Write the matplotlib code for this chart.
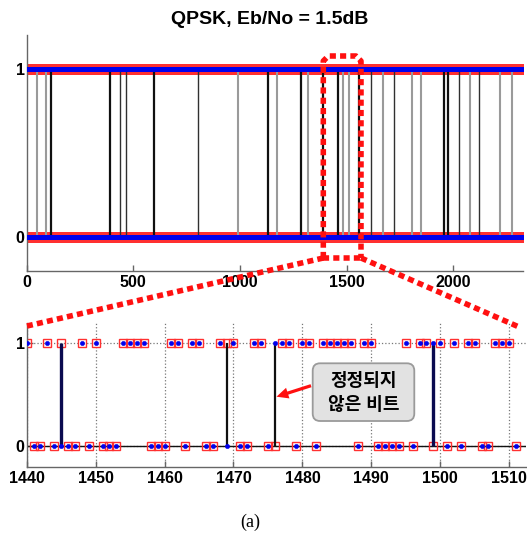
import matplotlib
matplotlib.use('Agg')
import matplotlib.pyplot as plt
import numpy as np
from matplotlib.lines import Line2D
from matplotlib.patches import FancyBboxPatch, FancyArrowPatch

plt.rcParams['font.family'] = ['Liberation Sans', 'Noto Sans CJK KR', 'DejaVu Sans']

# ---------------- data ----------------
title_text = "QPSK, Eb/No = 1.5dB"
caption_text = "(a)"
note_text = "정정되지\n않은 비트"

# overview panel
n_bits = 2328
overview_levels = [0, 1]
overview_xticks = [0, 500, 1000, 1500, 2000]
overview_err_pos = [47, 90, 114, 392, 436, 464, 598, 804, 989, 1133, 1172, 1286,
                    1320, 1390, 1458, 1484, 1512, 1560, 1612, 1669, 1723, 1808,
                    1850, 1955, 1975, 2025, 2076, 2122, 2219, 2275]
overview_err_shade = ['g', 'g', 'k', 'k', 'd', 'd', 'k', 'd', 'g', 'k', 'g', 'k',
                      'g', 'k', 'k', 'g', 'g', 'k', 'd', 'g', 'd', 'g',
                      'g', 'k', 'k', 'd', 'g', 'd', 'g', 'g']

# zoomed window 1440..1511
window_start = 1440
sent_bits = [1, 0, 0, 1, 0, 1, 0, 0, 1, 0,   # 1440-1449
             1, 0, 0, 0, 1, 1, 1, 1, 0, 0,   # 1450-1459
             0, 1, 1, 0, 1, 1, 0, 0, 1, 1,   # 1460-1469
             1, 0, 0, 1, 1, 0, 0, 1, 1, 0,   # 1470-1479
             1, 1, 0, 1, 1, 1, 1, 1, 0, 1,   # 1480-1489
             1, 0, 0, 0, 0, 1, 0, 1, 1, 0,   # 1490-1499
             1, 0, 1, 0, 1, 1, 0, 0, 1, 1,   # 1500-1509
             1, 0]                           # 1510-1511
decoded_bits = [1, 0, 0, 1, 0, 0, 0, 0, 1, 0,
                1, 0, 0, 0, 1, 1, 1, 1, 0, 0,
                0, 1, 1, 0, 1, 1, 0, 0, 1, 0,
                1, 0, 0, 1, 1, 0, 1, 1, 1, 0,
                1, 1, 0, 1, 1, 1, 1, 1, 0, 1,
                1, 0, 0, 0, 0, 1, 0, 1, 1, 1,
                1, 0, 1, 0, 1, 1, 0, 0, 1, 1,
                1, 0]
window_xticks = [1440, 1450, 1460, 1470, 1480, 1490, 1500, 1510]
window_err_shade = {1445: 'n', 1469: 'k', 1476: 'k', 1499: 'n'}

# ---------------- layout ----------------
W, H = 527, 533
fig = plt.figure(figsize=(W / 100, H / 100), dpi=100)


def ax_rect(left, right, top, bottom):
    return [left / W, 1 - bottom / H, (right - left) / W, (bottom - top) / H]


def fpx(x, y):
    return (x / W, 1 - y / H)


ax1 = fig.add_axes(ax_rect(26.6, 523.3, 35.3, 271.0))
ax2 = fig.add_axes(ax_rect(26.7, 526.4, 322.8, 466.5))

sq_kw = dict(ls='none', marker='s', markersize=5.6, mfc='none', mec='#ff3030', mew=1.0)
dot_kw = dict(ls='none', marker='o', markersize=3.2, mfc='#0000ee', mec='#0000ee', mew=0.3)
shade_style = {'g': ('#9a9a9a', 1.5), 'k': ('#101010', 1.6), 'd': ('#303030', 1.0),
               'n': ('#0a0a50', 2.4)}

# ---- overview ----
idx = np.arange(n_bits)
for lv in overview_levels:
    ax1.plot(idx, np.full(n_bits, lv), zorder=2, **sq_kw)
for p, s in zip(overview_err_pos, overview_err_shade):
    c, lw = shade_style[s]
    ax1.vlines(p, overview_levels[0], overview_levels[1], colors=c, linewidth=lw, zorder=3)
for lv in overview_levels:
    ax1.plot(idx, np.full(n_bits, lv), zorder=4, **dot_kw)
ax1.set_xlim(0, n_bits)
ax1.set_ylim(-0.2, 1.2)
ax1.set_xticks(overview_xticks)
ax1.set_yticks(overview_levels)

# ---- zoomed window ----
wx = np.arange(window_start, window_start + len(sent_bits))
ax2.axhline(0, color='#111111', linewidth=1.0, zorder=1.5)
ax2.plot(wx, sent_bits, zorder=2, **sq_kw)
for x, s, d in zip(wx, sent_bits, decoded_bits):
    if s != d:
        c, lw = shade_style[window_err_shade[int(x)]]
        ax2.vlines(x, min(s, d), max(s, d), colors=c, linewidth=lw, zorder=3)
ax2.plot(wx, decoded_bits, zorder=4, **dot_kw)
ax2.set_xlim(1440, 1512.5)
ax2.set_ylim(-0.2, 1.2)
ax2.set_xticks(window_xticks)
ax2.set_yticks([0, 1])
ax2.grid(True, linestyle=':', color='#777777', linewidth=0.9)
ax2.set_axisbelow(True)

for ax in (ax1, ax2):
    for side in ('top', 'right'):
        ax.spines[side].set_visible(False)
    for side in ('left', 'bottom'):
        ax.spines[side].set_color('#666666')
        ax.spines[side].set_linewidth(1.0)
    ax.tick_params(direction='in', length=4, width=1.0, color='#666666',
                   labelsize=11.5, pad=3)
    ax.tick_params(axis='y', pad=1.5)
    for lab in ax.get_xticklabels() + ax.get_yticklabels():
        lab.set_fontweight('bold')

# ---- title / caption ----
fig.text(*fpx(270, 19), title_text, ha='center', va='center', fontsize=14,
         fontweight='bold')
fig.text(*fpx(250, 522), caption_text, ha='center', va='center', fontsize=13,
         family=['Liberation Serif', 'DejaVu Serif'])

# ---- red dashed zoom indicator ----
red_kw = dict(color='#ff1010', linewidth=4.0, linestyle=(0, (1.1, 0.75)),
              solid_capstyle='butt', dash_capstyle='butt', transform=fig.transFigure)
bx0, bx1, by0, by1, r = 323.3, 361.0, 56.0, 258.0, 5.0
box_pts = [(bx0, by1), (bx0, by0 + r), (bx0 + r, by0), (bx1 - r, by0), (bx1, by0 + r),
           (bx1, by1)]
fig.add_artist(Line2D([fpx(*p)[0] for p in box_pts], [fpx(*p)[1] for p in box_pts], **red_kw))
fig.add_artist(Line2D([fpx(bx0, by1)[0], fpx(bx1, by1)[0]],
                      [fpx(bx0, by1)[1], fpx(bx1, by1)[1]], **red_kw))
fig.add_artist(Line2D([fpx(bx0, by1)[0], fpx(27, 326)[0]],
                      [fpx(bx0, by1)[1], fpx(27, 326)[1]], **red_kw))
fig.add_artist(Line2D([fpx(bx1, by1)[0], fpx(519, 327)[0]],
                      [fpx(bx1, by1)[1], fpx(519, 327)[1]], **red_kw))

# ---- annotation box ----
bl = fpx(312.7, 421.0)
tr = fpx(414.3, 363.3)
box = FancyBboxPatch(bl, tr[0] - bl[0], tr[1] - bl[1],
                     boxstyle='round,pad=0,rounding_size=0.014',
                     transform=fig.transFigure, facecolor='#e2e2e2',
                     edgecolor='#9a9a9a', linewidth=1.3, zorder=10)
fig.add_artist(box)
fig.text(*fpx(363.5, 381.5), note_text.split('\n')[0], ha='center', va='center',
         fontsize=13, fontweight='bold', zorder=11)
fig.text(*fpx(363.5, 405.0), note_text.split('\n')[1], ha='center', va='center',
         fontsize=13, fontweight='bold', zorder=11)
arrow = FancyArrowPatch(fpx(311.0, 385.7), fpx(276.5, 396.7), transform=fig.transFigure,
                        arrowstyle='simple,head_length=8.5,head_width=8,tail_width=2.3',
                        mutation_scale=1, color='#ff1010', linewidth=0, zorder=12,
                        shrinkA=0, shrinkB=0)
fig.add_artist(arrow)

fig.savefig('out.png', dpi=100)
